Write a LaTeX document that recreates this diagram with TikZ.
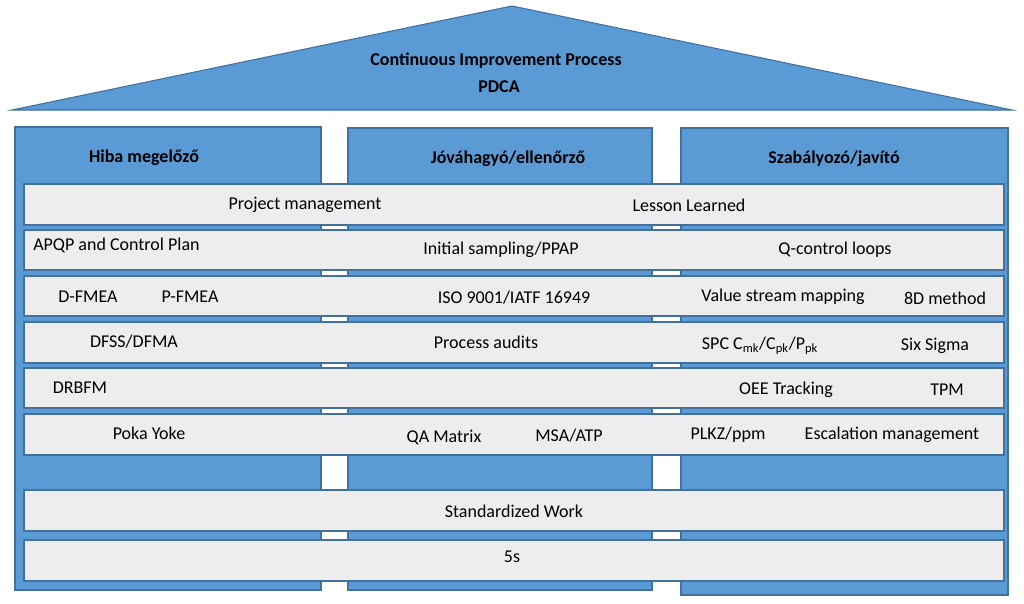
\documentclass[tikz,border=0pt]{standalone}
\usepackage{fontspec}
\setmainfont{Carlito}
\definecolor{blu}{HTML}{5B9BD5}
\definecolor{bord}{HTML}{41719C}
\definecolor{gry}{HTML}{EDEDED}
\begin{document}
\begin{tikzpicture}[x=0.75pt,y=-0.75pt,
  pillar/.style={fill=blu,draw=bord,line width=0.8pt},
  bar/.style={fill=gry,draw=bord,line width=0.8pt},
  lbl/.style={font=\fontsize{13.5}{16}\selectfont,inner sep=0pt},
  hdr/.style={font=\fontsize{13.5}{16}\selectfont\bfseries,inner sep=0pt}]
\useasboundingbox (0,0) rectangle (1024,603);
\filldraw[pillar] (12,110) -- (512,6) -- (1012,110) -- cycle;
\filldraw[pillar] (15,127) rectangle (321,590);
\filldraw[pillar] (348,128) rectangle (652,590);
\filldraw[pillar] (681,128) rectangle (1008,595);
\foreach \a/\b in {184/225,230/270,276/316,322/363,368/408,414/455,490/531,540/581}
  \filldraw[bar] (24,\a) rectangle (1004,\b);
\node[hdr] (roof1) at (496,61) {Continuous Improvement Process};
\node[hdr] (roof2) at (499,87) {PDCA};
\node[hdr] (h1) at (144,158) {Hiba megelőző};
\node[hdr] (h2) at (508,159) {Jóváhagyó/ellenőrző};
\node[hdr] (h3) at (834,159) {Szabályozó/javító};
\node[lbl] (t1) at (305,205) {Project management};
\node[lbl] (t2) at (689,205) {Lesson Learned};
\node[lbl,anchor=west] (t3) at (33,245) {APQP and Control Plan};
\node[lbl] (t4) at (501,250) {Initial sampling/PPAP};
\node[lbl] (t5) at (835,250) {Q-control loops};
\node[lbl] (t6) at (88,297) {D-FMEA};
\node[lbl] (t7) at (190,297) {P-FMEA};
\node[lbl] (t8) at (514,298) {ISO 9001/IATF 16949};
\node[lbl] (t9) at (783,297) {Value stream mapping};
\node[lbl] (t10) at (945,298) {8D method};
\node[lbl] (t11) at (134,342) {DFSS/DFMA};
\node[lbl] (t12) at (486,342) {Process audits};
\node[lbl] (t13) at (760,346) {SPC C\textsubscript{mk}/C\textsubscript{pk}/P\textsubscript{pk}};
\node[lbl] (t14) at (935,346) {Six Sigma};
\node[lbl] (t15) at (80,388) {DRBFM};
\node[lbl] (t16) at (786,390) {OEE Tracking};
\node[lbl] (t17) at (947,390) {TPM};
\node[lbl] (t18) at (149,433) {Poka Yoke};
\node[lbl] (t19) at (444,437) {QA Matrix};
\node[lbl] (t20) at (569,436) {MSA/ATP};
\node[lbl] (t21) at (728,435) {PLKZ/ppm};
\node[lbl] (t22) at (892,435) {Escalation management};
\node[lbl] (t23) at (514,511) {Standardized Work};
\node[lbl] (t24) at (512,557) {5s};
\end{tikzpicture}
\end{document}
